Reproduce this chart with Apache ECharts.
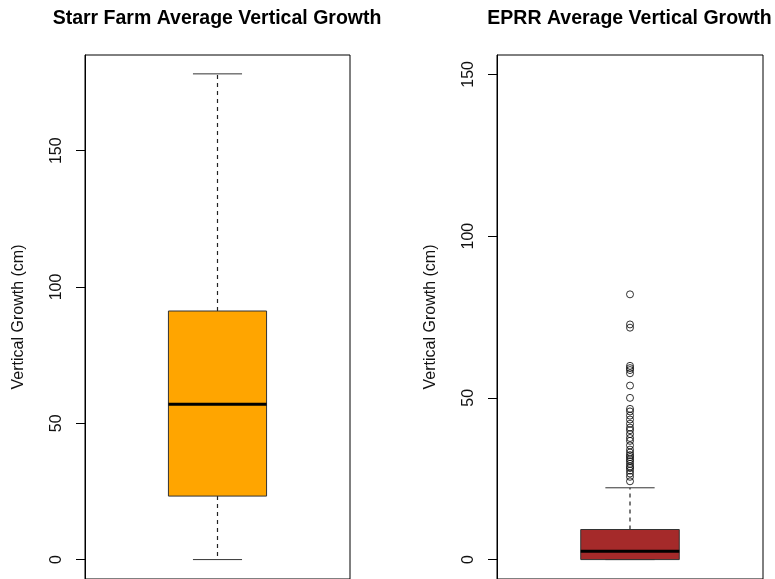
<!DOCTYPE html>
<html>
<head>
<meta charset="utf-8">
<title>Average Vertical Growth</title>
<script src="https://cdn.jsdelivr.net/npm/echarts@6/dist/echarts.min.js"></script>
<style>
  html, body { margin: 0; padding: 0; background: #fff; }
  #chart { width: 775px; height: 579px; }
</style>
</head>
<body>
<div id="chart"></div>
<script>
// Panel titles
const panelTitles = ['Starr Farm Average Vertical Growth', 'EPRR Average Vertical Growth'];
const yAxisTitle = 'Vertical Growth (cm)';

// Five-number summaries: [lower whisker, Q1, median, Q3, upper whisker]
const starrStats = [0, 23.3, 57.0, 91.2, 178.2];
const eprrStats = [0, 0, 2.6, 9.3, 22.2];

// EPRR points beyond the upper whisker
const eprrOutliers = [
  82, 72.7, 71.7, 59.9, 59.2, 58.6, 57.6, 53.8, 50.0,
  46.6, 45.8, 44.5, 43.3, 42.0, 40.8, 40.0, 38.8, 37.6, 36.7, 35.3,
  34.0, 33.1, 32.3, 31.7, 31.0, 30.4, 29.6, 28.8, 28.3, 27.5,
  26.6, 25.6, 24.2
];

// Axis ranges and tick labels
const starrRange = [-7.12, 185.12];
const eprrRange = [-6, 156];
const yTicks = [0, 50, 100, 150];

const groupPos = 1;

function renderBox(fill) {
  return function (params, api) {
    const x = api.value(0);
    const lo = api.coord([x, api.value(1)]);
    const q1 = api.coord([x, api.value(2)]);
    const med = api.coord([x, api.value(3)]);
    const q3 = api.coord([x, api.value(4)]);
    const hi = api.coord([x, api.value(5)]);
    const boxW = api.size([0.4, 0])[0];
    const capW = boxW / 2;
    const cx = q1[0];
    const whisker = { stroke: '#222', lineWidth: 1.2, lineDash: [4, 4] };
    const cap = { stroke: '#333', lineWidth: 1 };
    return {
      type: 'group',
      children: [
        { type: 'line', shape: { x1: cx, y1: q3[1], x2: cx, y2: hi[1] }, style: whisker },
        { type: 'line', shape: { x1: cx, y1: q1[1], x2: cx, y2: lo[1] }, style: whisker },
        { type: 'line', shape: { x1: cx - capW / 2, y1: hi[1], x2: cx + capW / 2, y2: hi[1] }, style: cap },
        { type: 'line', shape: { x1: cx - capW / 2, y1: lo[1], x2: cx + capW / 2, y2: lo[1] }, style: cap },
        { type: 'rect', shape: { x: cx - boxW / 2, y: q3[1], width: boxW, height: q1[1] - q3[1] },
          style: { fill: fill, stroke: '#333', lineWidth: 1 } },
        { type: 'line', shape: { x1: cx - boxW / 2, y1: med[1], x2: cx + boxW / 2, y2: med[1] },
          style: { stroke: '#000', lineWidth: 3 } }
      ]
    };
  };
}

const fontFamily = '"Liberation Sans", Arial, sans-serif';

function yAxisFor(gridIndex, range) {
  return {
    type: 'value',
    gridIndex: gridIndex,
    min: range[0],
    max: range[1],
    name: yAxisTitle,
    nameLocation: 'middle',
    nameGap: 58,
    nameTextStyle: { color: '#111', fontSize: 16, fontFamily: fontFamily },
    axisLine: { show: true, lineStyle: { color: '#000', width: 1 } },
    axisTick: { show: true, length: 9, customValues: yTicks, lineStyle: { color: '#000' } },
    axisLabel: { show: true, rotate: 90, margin: 20, customValues: yTicks,
                 color: '#111', fontSize: 16, fontFamily: fontFamily },
    splitLine: { show: false }
  };
}

function xAxisFor(gridIndex) {
  return {
    type: 'value',
    gridIndex: gridIndex,
    min: groupPos - 0.54,
    max: groupPos + 0.54,
    show: false
  };
}

const chart = echarts.init(document.getElementById('chart'), null, { renderer: 'canvas' });
chart.setOption({
  animation: false,
  backgroundColor: '#fff',
  title: [
    { text: panelTitles[0], left: 212, top: 4, textAlign: 'center',
      textStyle: { fontSize: 19.5, fontWeight: 'bold', color: '#000', fontFamily: fontFamily } },
    { text: panelTitles[1], left: 624.5, top: 4, textAlign: 'center',
      textStyle: { fontSize: 19.5, fontWeight: 'bold', color: '#000', fontFamily: fontFamily } }
  ],
  grid: [
    { left: 85, top: 55, width: 265, height: 525.5, show: true, borderColor: '#000', borderWidth: 1, backgroundColor: 'transparent' },
    { left: 497, top: 55, width: 266, height: 525.5, show: true, borderColor: '#000', borderWidth: 1, backgroundColor: 'transparent' }
  ],
  xAxis: [xAxisFor(0), xAxisFor(1)],
  yAxis: [yAxisFor(0, starrRange), yAxisFor(1, eprrRange)],
  series: [
    {
      type: 'custom', xAxisIndex: 0, yAxisIndex: 0, silent: true, clip: false,
      renderItem: renderBox('#FFA500'),
      data: [[groupPos].concat(starrStats)]
    },
    {
      type: 'custom', xAxisIndex: 1, yAxisIndex: 1, silent: true, clip: false,
      renderItem: renderBox('#A52A2A'),
      data: [[groupPos].concat(eprrStats)]
    },
    {
      type: 'scatter', xAxisIndex: 1, yAxisIndex: 1, silent: true,
      symbol: 'circle', symbolSize: 7,
      itemStyle: { color: 'rgba(0,0,0,0)', borderColor: '#000', borderWidth: 1 },
      data: eprrOutliers.map(v => [groupPos, v])
    }
  ]
});
</script>
</body>
</html>
